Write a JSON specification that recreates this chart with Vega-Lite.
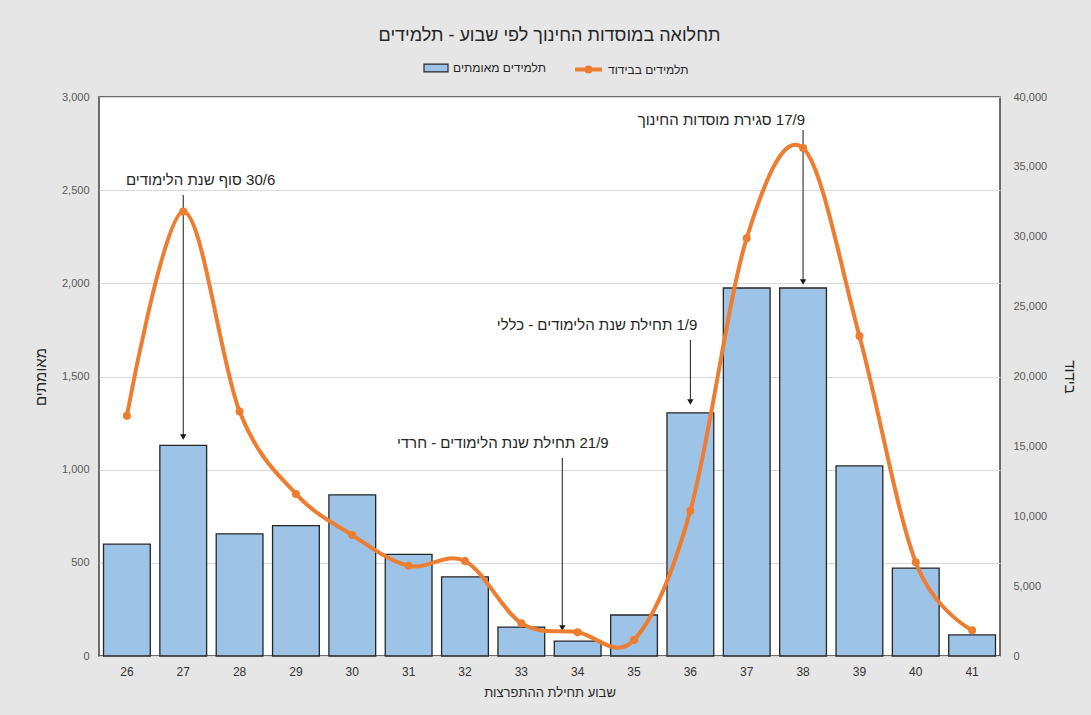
{
  "$schema": "https://vega.github.io/schema/vega-lite/v6.json",
  "width": 901,
  "height": 559,
  "autosize": {"type": "none"},
  "padding": {"left": 99, "top": 97, "right": 91, "bottom": 59},
  "background": "#e6e6e6",
  "title": {
    "text": "תחלואה במוסדות החינוך לפי שבוע - תלמידים",
    "font": "Liberation Sans",
    "fontSize": 18,
    "fontWeight": "normal",
    "color": "#262626",
    "anchor": "middle",
    "offset": 9
  },
  "config": {
    "view": {"fill": "white", "stroke": "#404040", "strokeWidth": 1.5},
    "axis": {"labelFont": "Liberation Sans", "titleFont": "Liberation Sans", "titleFontWeight": "normal", "titleColor": "#262626"},
    "legend": {"padding": 0}
  },
  "datasets": {
    "weekly": [
      {"week": 26, "confirmed": 600, "isolation": 17200},
      {"week": 27, "confirmed": 1130, "isolation": 31800},
      {"week": 28, "confirmed": 655, "isolation": 17500},
      {"week": 29, "confirmed": 700, "isolation": 11600},
      {"week": 30, "confirmed": 865, "isolation": 8650},
      {"week": 31, "confirmed": 545, "isolation": 6450},
      {"week": 32, "confirmed": 425, "isolation": 6800},
      {"week": 33, "confirmed": 155, "isolation": 2350},
      {"week": 34, "confirmed": 80, "isolation": 1700},
      {"week": 35, "confirmed": 220, "isolation": 1150},
      {"week": 36, "confirmed": 1305, "isolation": 10400},
      {"week": 37, "confirmed": 1975, "isolation": 29900},
      {"week": 38, "confirmed": 1975, "isolation": 36350},
      {"week": 39, "confirmed": 1020, "isolation": 22900},
      {"week": 40, "confirmed": 472, "isolation": 6700},
      {"week": 41, "confirmed": 113, "isolation": 1850}
    ],
    "notes": [
      {"id": 1, "week": 27, "label": "\u200F30/6 סוף שנת הלימודים", "textY": 2555, "startY": 2474, "endY": 1175},
      {"id": 2, "week": 36, "label": "\u200F1/9  תחילת שנת הלימודים - כללי", "textY": 1777, "startY": 1696, "endY": 1363},
      {"id": 3, "week": 34, "label": "\u200F21/9 תחילת שנת הלימודים - חרדי", "textY": 1143, "startY": 1063, "endY": 150},
      {"id": 4, "week": 38, "label": "\u200F17/9 סגירת מוסדות החינוך", "textY": 2877, "startY": 2823, "endY": 2007}
    ]
  },
  "layer": [
    {
      "layer": [
        {
          "data": {"name": "weekly"},
          "mark": {"type": "bar", "stroke": "#262626", "strokeWidth": 1.3},
          "encoding": {
            "x": {
              "field": "week",
              "type": "ordinal",
              "scale": {"paddingInner": 0.17, "paddingOuter": 0.08},
              "axis": {
                "title": "שבוע תחילת ההתפרצות",
                "labelAngle": 0,
                "ticks": false,
                "domain": false,
                "labelPadding": 10,
                "labelFontSize": 12,
                "labelColor": "#333333",
                "titleFontSize": 13,
                "titlePadding": 9
              }
            },
            "y": {
              "field": "confirmed",
              "type": "quantitative",
              "scale": {"domain": [0, 3000]},
              "axis": {
                "title": "מאומתים",
                "values": [0, 500, 1000, 1500, 2000, 2500, 3000],
                "format": ",d",
                "ticks": false,
                "domain": false,
                "grid": true,
                "gridColor": "#d9d9d9",
                "labelFontSize": 11,
                "labelColor": "#595959",
                "labelPadding": 10,
                "titleFontSize": 15,
                "titlePadding": 13
              }
            },
            "fill": {
              "datum": "תלמידים מאומתים",
              "scale": {"range": ["#9DC3E6"]},
              "legend": {
                "title": null,
                "orient": "none",
                "legendX": 324,
                "legendY": -42,
                "symbolType": "M-1,-0.33H1V0.33H-1Z",
                "symbolSize": 576,
                "symbolStrokeColor": "#262626",
                "symbolStrokeWidth": 1.2,
                "symbolOpacity": 1,
                "labelFont": "Liberation Sans",
                "labelFontSize": 12,
                "labelColor": "#262626",
                "labelOffset": 4
              }
            }
          }
        },
        {
          "data": {"name": "notes"},
          "transform": [{"filter": "datum.id != 3"}],
          "mark": {"type": "rule", "color": "#1a1a1a", "strokeWidth": 1},
          "encoding": {
            "x": {"field": "week", "type": "ordinal"},
            "y": {"field": "startY", "type": "quantitative"},
            "y2": {"field": "endY"}
          }
        },
        {
          "data": {"name": "notes"},
          "transform": [{"filter": "datum.id != 3"}],
          "mark": {"type": "point", "shape": "triangle-down", "filled": true, "color": "#1a1a1a", "size": 40, "opacity": 1},
          "encoding": {
            "x": {"field": "week", "type": "ordinal"},
            "y": {"field": "endY", "type": "quantitative"}
          }
        },
        {
          "data": {"name": "notes"},
          "transform": [{"filter": "datum.id == 3"}],
          "mark": {"type": "rule", "color": "#1a1a1a", "strokeWidth": 1},
          "encoding": {
            "x": {"field": "week", "type": "ordinal"},
            "xOffset": {"value": 8},
            "y": {"field": "startY", "type": "quantitative"},
            "y2": {"field": "endY"}
          }
        },
        {
          "data": {"name": "notes"},
          "transform": [{"filter": "datum.id == 3"}],
          "mark": {"type": "point", "shape": "triangle-down", "filled": true, "color": "#1a1a1a", "size": 40, "opacity": 1},
          "encoding": {
            "x": {"field": "week", "type": "ordinal"},
            "xOffset": {"value": 8},
            "y": {"field": "endY", "type": "quantitative"}
          }
        },
        {
          "data": {"name": "notes"},
          "transform": [{"filter": "datum.id == 1"}],
          "mark": {"type": "text", "align": "right", "baseline": "middle", "dx": 92, "font": "Liberation Sans", "fontSize": 15, "color": "#262626"},
          "encoding": {
            "x": {"field": "week", "type": "ordinal"},
            "y": {"field": "textY", "type": "quantitative"},
            "text": {"field": "label"}
          }
        },
        {
          "data": {"name": "notes"},
          "transform": [{"filter": "datum.id == 2"}],
          "mark": {"type": "text", "align": "right", "baseline": "middle", "dx": 7, "font": "Liberation Sans", "fontSize": 15, "color": "#262626"},
          "encoding": {
            "x": {"field": "week", "type": "ordinal"},
            "y": {"field": "textY", "type": "quantitative"},
            "text": {"field": "label"}
          }
        },
        {
          "data": {"name": "notes"},
          "transform": [{"filter": "datum.id == 3"}],
          "mark": {"type": "text", "align": "right", "baseline": "middle", "dx": 31, "font": "Liberation Sans", "fontSize": 15, "color": "#262626"},
          "encoding": {
            "x": {"field": "week", "type": "ordinal"},
            "y": {"field": "textY", "type": "quantitative"},
            "text": {"field": "label"}
          }
        },
        {
          "data": {"name": "notes"},
          "transform": [{"filter": "datum.id == 4"}],
          "mark": {"type": "text", "align": "right", "baseline": "middle", "dx": 2, "font": "Liberation Sans", "fontSize": 15, "color": "#262626"},
          "encoding": {
            "x": {"field": "week", "type": "ordinal"},
            "y": {"field": "textY", "type": "quantitative"},
            "text": {"field": "label"}
          }
        }
      ]
    },
    {
      "data": {"name": "weekly"},
      "mark": {
        "type": "line",
        "interpolate": "cardinal",
        "strokeWidth": 4,
        "point": {"filled": true, "fill": "#ED7D31", "size": 36, "opacity": 1}
      },
      "encoding": {
        "x": {"field": "week", "type": "ordinal"},
        "y": {
          "field": "isolation",
          "type": "quantitative",
          "scale": {"domain": [0, 40000]},
          "axis": {
            "orient": "right",
            "title": "בידוד",
            "values": [0, 5000, 10000, 15000, 20000, 25000, 30000, 35000, 40000],
            "format": ",d",
            "ticks": false,
            "domain": false,
            "grid": false,
            "labelFontSize": 11,
            "labelColor": "#595959",
            "labelPadding": 13,
            "titleFontSize": 15,
            "titlePadding": 15
          }
        },
        "stroke": {
          "datum": "תלמידים בבידוד",
          "scale": {"range": ["#ED7D31"]},
          "legend": {
            "title": null,
            "orient": "none",
            "legendX": 474,
            "legendY": -43,
            "symbolType": "M-1,0H1M0.15,0A0.15,0.15,0,1,1,-0.15,0A0.15,0.15,0,1,1,0.15,0",
            "symbolSize": 729,
            "symbolStrokeWidth": 4,
            "symbolFillColor": "transparent",
            "symbolOpacity": 1,
            "labelFont": "Liberation Sans",
            "labelFontSize": 12,
            "labelColor": "#262626",
            "labelOffset": 4
          }
        }
      }
    }
  ],
  "resolve": {"scale": {"y": "independent"}}
}
